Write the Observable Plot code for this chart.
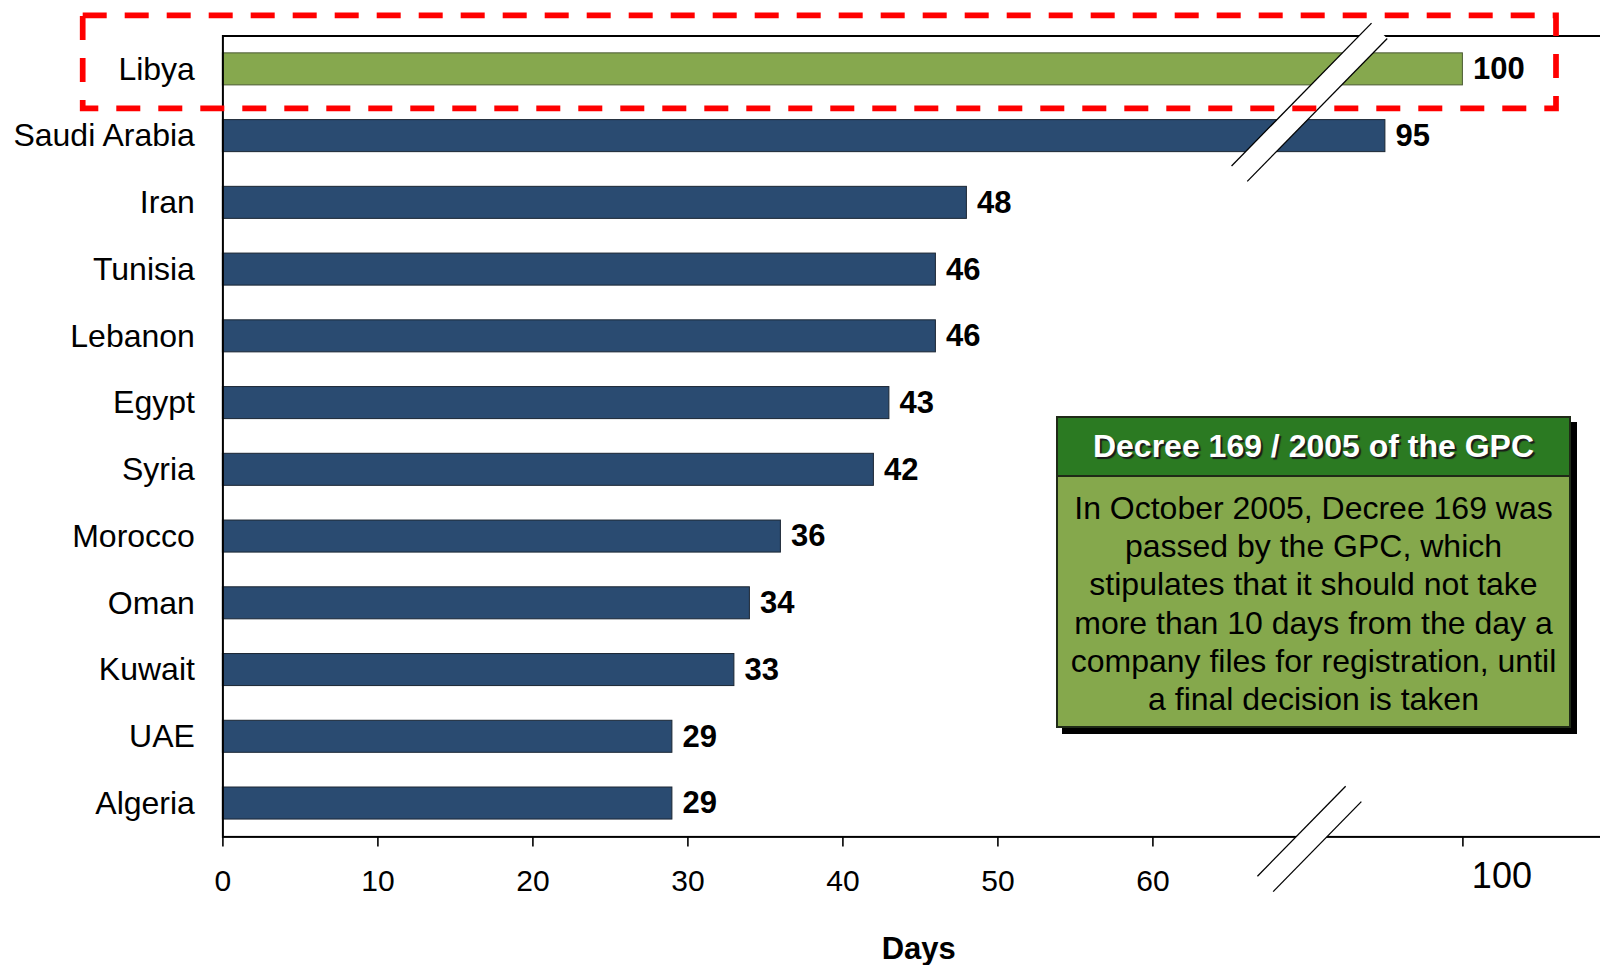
<!DOCTYPE html>
<html>
<head>
<meta charset="utf-8">
<script src="https://cdn.jsdelivr.net/npm/d3@7"></script>
<script src="https://cdn.jsdelivr.net/npm/@observablehq/plot@0.6"></script>
<style>
  html, body { margin: 0; padding: 0; background: #fff; }
  #chart { position: relative; width: 1600px; height: 965px; overflow: hidden;
           font-family: "Liberation Sans", Arial, sans-serif; }
  #chart svg { display: block; }
  .note { position: absolute; left: 1056px; top: 416px; width: 515px; box-sizing: border-box;
          border: 2px solid #1f2a17; box-shadow: 6px 6px 0 #000; background: #85a84c; }
  .note .head { background: #2b7a22; color: #fff; font-weight: bold; font-size: 32px;
                text-align: center; height: 57px; line-height: 57px;
                border-bottom: 2px solid #1f2a17; text-shadow: 2px 2px 1px #1a1a1a; }
  .note .body { color: #000; font-size: 32px; line-height: 38.2px; text-align: center;
                padding: 12px 0 8px; white-space: nowrap; }
</style>
</head>
<body>
<div id="chart"></div>
<script>
// Days needed to register a company, by country
const countries = ["Libya", "Saudi Arabia", "Iran", "Tunisia", "Lebanon", "Egypt",
                   "Syria", "Morocco", "Oman", "Kuwait", "UAE", "Algeria"];
const days = [100, 95, 48, 46, 46, 43, 42, 36, 34, 33, 29, 29];
const highlighted = "Libya";
const xTicks = [0, 10, 20, 30, 40, 50, 60, 100];
const xTitle = "Days";
const noteTitle = "Decree 169 / 2005 of the GPC";
const noteLines = [
  "In October 2005, Decree 169 was",
  "passed by the GPC, which",
  "stipulates that it should not take",
  "more than 10 days from the day a",
  "company files for registration, until",
  "a final decision is taken"
];

const data = countries.map((country, i) => ({country, days: days[i]}));

// Layout
const W = 1600, H = 965;
const plotLeft = 222.4, plotTop = 35.5, plotBottom = 836.4;
const pxPerDay = 15.5;
// The axis is cut between 70 and 90 days so the two long bars fit
const breakLo = 70, breakHi = 90;
const xBreak = plotLeft + breakLo * pxPerDay;
const xMax = breakHi + (W - xBreak) / pxPerDay;

const navy = "#2a4b71";
const green = "#86a84e";

const plot = Plot.plot({
  width: W,
  height: H,
  marginLeft: plotLeft,
  marginRight: 0,
  marginTop: plotTop,
  marginBottom: H - plotBottom,
  style: {fontFamily: "'Liberation Sans', Arial, sans-serif", background: "white", color: "black"},
  x: {type: "linear", domain: [0, breakLo, breakHi, xMax], range: [plotLeft, xBreak, xBreak, W]},
  y: {domain: countries, paddingInner: 0.52, paddingOuter: 0.26, align: 0.5, round: false},
  marks: [
    Plot.barX(data, {filter: d => d.country !== highlighted, x: "days", y: "country",
                     fill: navy, stroke: "#1b2633", strokeWidth: 1}),
    Plot.barX(data, {filter: d => d.country === highlighted, x: "days", y: "country",
                     fill: green, stroke: "#4b5a33", strokeWidth: 1}),
    Plot.text(data, {x: "days", y: "country", text: d => String(d.days), dx: 10,
                     textAnchor: "start", fontWeight: "bold", fontSize: 31, fill: "black"}),
    Plot.axisY({tickSize: 0, tickPadding: 28, fontSize: 32, label: null}),
    Plot.axisX({ticks: xTicks, tickSize: 10, tickPadding: 23, fontSize: 30, strokeWidth: 1.6,
                tickFormat: d => (d === 100 ? "" : String(d)), label: null}),
    // the value after the break is labelled on its own, larger
    Plot.text([100], {x: d => d, frameAnchor: "bottom", lineAnchor: "top",
                      dx: 39, dy: 26, fontSize: 36, fill: "black"}),
    Plot.text([xTitle], {frameAnchor: "bottom", lineAnchor: "top", dx: 7, dy: 100,
                         fontSize: 31, fontWeight: "bold", fill: "black"}),
    Plot.frame({stroke: "black", strokeWidth: 2, insetRight: -10})
  ]
});

document.getElementById("chart").appendChild(plot);

// Break symbols: two parallel slashes with a white gap between them
const svg = d3.select(plot);
const yScale = plot.scale("y");
function drawBreak(cx, cy, half, gap) {
  const ux = -0.7, uy = 0.714;   // along the slash
  const px = 0.714, py = 0.7;    // across the slash
  const seg = s => [
    [cx + s * px * gap / 2 - ux * half, cy + s * py * gap / 2 - uy * half],
    [cx + s * px * gap / 2 + ux * half, cy + s * py * gap / 2 + uy * half]
  ];
  const a = seg(-1), b = seg(1);
  const g = svg.append("g");
  g.append("polygon")
    .attr("points", [a[0], a[1], b[1], b[0]].map(p => p.join(",")).join(" "))
    .attr("fill", "white");
  for (const s of [a, b]) {
    g.append("line")
      .attr("x1", s[0][0]).attr("y1", s[0][1])
      .attr("x2", s[1][0]).attr("y2", s[1][1])
      .attr("stroke", "black").attr("stroke-width", 1.3);
  }
}
const step = yScale.step;
const firstCenter = yScale.apply(countries[0]) + yScale.bandwidth / 2;
drawBreak(xBreak + 2, firstCenter + step / 2, 100, 22);
drawBreak(xBreak + 2, plotBottom + 2.5, 63, 22);

// Highlight box around the first row
svg.append("rect")
  .attr("x", 82.7).attr("y", 15.3)
  .attr("width", 1556 - 82.7).attr("height", 108.3 - 15.3)
  .attr("fill", "none").attr("stroke", "#ff0000")
  .attr("stroke-width", 5.7).attr("stroke-dasharray", "24 18");

// Note box
const note = d3.select("#chart").append("div").attr("class", "note");
note.append("div").attr("class", "head").text(noteTitle);
const body = note.append("div").attr("class", "body");
noteLines.forEach(line => body.append("div").text(line));
</script>
</body>
</html>
